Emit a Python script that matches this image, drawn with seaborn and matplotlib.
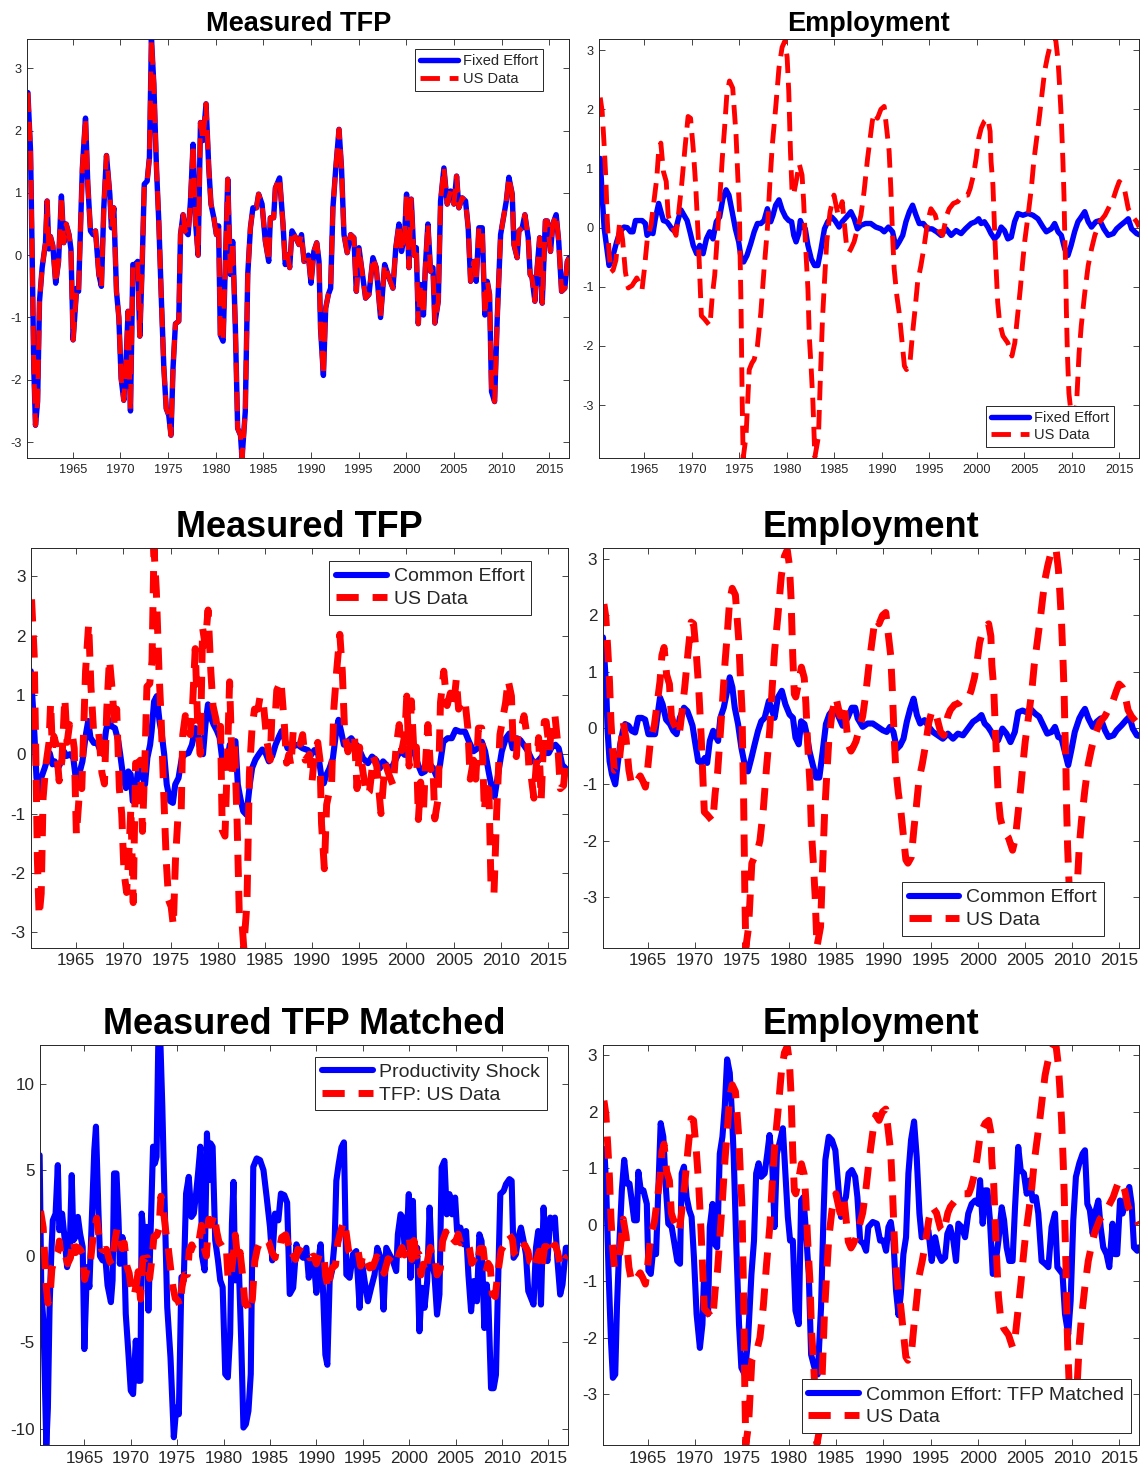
import numpy as np
import matplotlib
matplotlib.use("Agg")
import matplotlib.pyplot as plt
import seaborn as sns

# ---------------- data ----------------
tfp_year = [1960.28, 1960.56, 1960.73, 1960.90, 1961.08, 1961.30, 1961.50, 1961.78, 1962.13, 1962.30,
            1962.48, 1962.65, 1962.90, 1963.20, 1963.50, 1963.80, 1964.05, 1964.30, 1964.60, 1964.80,
            1965.03, 1965.40, 1965.60, 1966.00, 1966.33, 1966.57, 1966.85, 1967.13, 1967.38, 1967.73,
            1968.00, 1968.25, 1968.53, 1968.88, 1969.05, 1969.30, 1969.58, 1969.83, 1970.07, 1970.35,
            1970.63, 1970.80, 1971.05, 1971.30, 1971.57, 1971.80, 1972.03, 1972.27, 1972.50, 1972.80,
            1973.04, 1973.25, 1973.50, 1973.78, 1974.02, 1974.30, 1974.55, 1974.80, 1975.07, 1975.30,
            1975.52, 1975.77, 1976.12, 1976.30, 1976.57, 1976.80, 1977.10, 1977.35, 1977.62, 1977.87,
            1978.15, 1978.40, 1978.67, 1978.98, 1979.27, 1979.50, 1979.80, 1980.07, 1980.30, 1980.48,
            1980.77, 1981.00, 1981.26, 1981.54, 1981.78, 1982.06, 1982.30, 1982.60, 1982.76, 1983.10,
            1983.36, 1983.64, 1983.90, 1984.27, 1984.50, 1984.86, 1985.20, 1985.56, 1985.73, 1986.08,
            1986.26, 1986.70, 1987.06, 1987.30, 1987.55, 1987.76, 1988.00, 1988.40, 1988.74, 1989.00,
            1989.27, 1989.72, 1990.00, 1990.30, 1990.60, 1990.84, 1991.00, 1991.30, 1991.54, 1991.82,
            1992.06, 1992.30, 1992.60, 1992.94, 1993.20, 1993.46, 1993.80, 1994.16, 1994.50, 1994.76,
            1995.03, 1995.40, 1995.73, 1996.08, 1996.50, 1996.85, 1997.30, 1997.73, 1998.18, 1998.60,
            1998.90, 1999.23, 1999.50, 1999.83, 2000.03, 2000.28, 2000.52, 2000.80, 2001.05, 2001.26,
            2001.50, 2001.80, 2002.00, 2002.27, 2002.55, 2002.80, 2003.00, 2003.36, 2003.60, 2003.95,
            2004.30, 2004.65, 2005.00, 2005.28, 2005.52, 2005.87, 2006.22, 2006.50, 2006.75, 2007.10,
            2007.34, 2007.62, 2007.97, 2008.25, 2008.50, 2008.74, 2008.95, 2009.27, 2009.55, 2009.90,
            2010.14, 2010.50, 2010.77, 2011.12, 2011.30, 2011.64, 2011.82, 2012.17, 2012.45, 2012.80,
            2013.00, 2013.20, 2013.50, 2013.74, 2014.00, 2014.27, 2014.60, 2014.80, 2015.14, 2015.38,
            2015.73, 2016.00, 2016.30, 2016.64, 2016.90, 2017.10]
tfp_data = [2.61, 1.67, 0.00, -1.80, -2.73, -2.35, -0.74, -0.20, 0.20, 0.87,
            0.10, 0.30, 0.15, -0.45, -0.10, 0.95, 0.20, 0.50, 0.33, 0.10,
            -1.36, -0.53, -0.58, 1.40, 2.20, 1.14, 0.39, 0.33, 0.39, -0.31,
            -0.50, 0.76, 1.60, 0.98, 0.44, 0.76, -0.58, -1.00, -1.98, -2.33,
            -1.55, -0.90, -2.50, -0.15, -0.15, -0.10, -1.30, -0.20, 1.14, 1.19,
            1.57, 3.47, 2.75, 1.40, 0.55, -0.74, -1.80, -2.46, -2.57, -2.89,
            -1.80, -1.10, -1.06, 0.33, 0.65, 0.39, 0.33, 0.87, 1.78, 0.55,
            0.00, 2.13, 1.84, 2.43, 1.40, 0.82, 0.60, 0.33, 0.47, -1.28,
            -1.38, -0.20, 1.22, -0.31, 0.22, -1.17, -2.78, -2.89, -3.26, -2.51,
            -0.31, 0.44, 0.76, 0.76, 0.98, 0.82, 0.23, -0.10, 0.60, 0.60,
            1.08, 1.24, 0.50, -0.15, 0.00, -0.20, 0.39, 0.28, 0.17, 0.33,
            -0.10, 0.00, -0.45, 0.06, 0.20, -0.10, -1.17, -1.93, -0.85, -0.63,
            -0.53, 0.76, 1.40, 2.02, 1.40, 0.33, 0.04, 0.33, 0.28, -0.58,
            0.12, -0.31, -0.69, -0.63, -0.04, -0.20, -1.00, -0.15, -0.36, -0.53,
            0.12, 0.50, 0.06, 0.33, 0.98, -0.20, 0.90, 0.00, 0.12, -1.10,
            -0.47, -0.96, -0.20, 0.50, -0.26, -0.20, -1.09, -0.74, 0.87, 1.40,
            0.82, 1.03, 0.82, 1.27, 0.76, 0.92, 0.87, 0.44, -0.42, -0.10,
            -0.42, 0.44, 0.44, -0.96, -0.42, -0.63, -2.19, -2.35, -1.00, 0.33,
            0.55, 0.87, 1.25, 0.98, 0.17, -0.04, 0.39, 0.44, 0.65, 0.28,
            -0.31, -0.36, -0.74, -0.20, 0.28, -0.77, 0.55, 0.55, 0.06, 0.50,
            0.65, 0.22, -0.58, -0.53, -0.10, -0.04]
# Fixed-effort model TFP lies on top of the data
fixed_effort_tfp = list(tfp_data)

emp_year = [1960.35, 1960.55, 1960.76, 1960.94, 1961.10, 1961.28, 1961.46, 1961.70, 1962.00, 1962.40,
            1962.70, 1963.00, 1963.30, 1963.70, 1964.20, 1964.50, 1964.75, 1965.00, 1965.30, 1965.70,
            1966.00, 1966.30, 1966.50, 1966.73, 1967.00, 1967.30, 1967.50, 1967.70, 1968.05, 1968.33,
            1968.58, 1968.92, 1969.27, 1969.60, 1969.86, 1970.14, 1970.40, 1970.66, 1970.83, 1971.00,
            1971.35, 1971.90, 1972.15, 1972.40, 1972.64, 1972.92, 1973.20, 1973.44, 1973.68, 1973.96,
            1974.30, 1974.65, 1974.83, 1975.00, 1975.07, 1975.17, 1975.24, 1975.30, 1975.40, 1975.70,
            1975.87, 1976.04, 1976.32, 1976.56, 1976.90, 1977.26, 1977.60, 1977.95, 1978.20, 1978.47,
            1978.82, 1979.17, 1979.50, 1979.80, 1980.03, 1980.20, 1980.38, 1980.55, 1980.70, 1981.00,
            1981.30, 1981.60, 1981.77, 1981.95, 1982.22, 1982.36, 1982.57, 1982.75, 1982.95, 1983.33,
            1983.50, 1983.75, 1983.96, 1984.20, 1984.55, 1984.96, 1985.40, 1985.83, 1986.04, 1986.28,
            1986.56, 1986.74, 1987.08, 1987.43, 1987.80, 1988.13, 1988.50, 1988.73, 1989.00, 1989.20,
            1989.54, 1989.90, 1990.25, 1990.50, 1990.77, 1990.95, 1991.13, 1991.30, 1991.58, 1991.83,
            1992.00, 1992.20, 1992.38, 1992.60, 1992.96, 1993.24, 1993.50, 1993.77, 1994.12, 1994.47,
            1994.82, 1995.17, 1995.63, 1996.06, 1996.40, 1996.83, 1997.10, 1997.53, 1998.00, 1998.52,
            1999.05, 1999.30, 1999.65, 1999.93, 2000.20, 2000.46, 2000.80, 2001.16, 2001.40, 2001.50,
            2001.70, 2001.87, 2002.04, 2002.20, 2002.40, 2002.75, 2003.27, 2003.70, 2004.00, 2004.33,
            2004.58, 2004.80, 2005.04, 2005.40, 2005.74, 2006.00, 2006.27, 2006.62, 2006.90, 2007.15,
            2007.43, 2007.68, 2008.03, 2008.30, 2008.56, 2008.73, 2008.90, 2009.07, 2009.18, 2009.25,
            2009.36, 2009.43, 2009.54, 2009.70, 2009.90, 2010.20, 2010.50, 2010.77, 2011.00, 2011.37,
            2011.73, 2012.08, 2012.43, 2012.96, 2013.50, 2013.94, 2014.37, 2014.72, 2015.00, 2015.35,
            2015.60, 2015.95, 2016.30, 2016.83, 2017.10]
emp_data = [2.20, 1.97, 1.40, 0.83, 0.10, -0.41, -0.75, -0.72, -0.55, 0.10,
            -0.20, -0.75, -1.02, -0.98, -0.85, -0.95, -1.05, -0.70, -0.20, 0.05,
            0.44, 0.83, 1.29, 1.43, 0.95, 0.78, 0.21, 0.10, -0.02, -0.13,
            0.21, 0.72, 1.34, 1.88, 1.85, 1.34, 0.72, -0.13, -0.81, -1.49,
            -1.55, -1.66, -1.15, -0.81, -0.24, 0.44, 1.17, 1.68, 2.25, 2.48,
            2.36, 1.57, 0.89, 0.32, -0.41, -1.26, -2.12, -2.97, -3.90, -3.53,
            -2.97, -2.40, -2.29, -2.23, -2.00, -1.44, -0.70, -0.02, 0.72, 1.40,
            2.02, 2.70, 3.05, 3.16, 2.88, 2.31, 1.29, 0.60, 0.55, 0.80,
            1.08, 0.89, 0.44, -0.24, -1.04, -1.83, -2.40, -2.97, -3.88, -3.53,
            -2.68, -1.55, -0.92, -0.24, 0.27, 0.55, 0.21, 0.44, 0.10, -0.30,
            -0.41, -0.36, -0.24, -0.02, 0.21, 0.61, 1.17, 1.46, 1.80, 1.94,
            1.85, 2.00, 2.05, 1.68, 1.29, 0.66, -0.13, -0.70, -1.15, -1.44,
            -1.72, -2.06, -2.34, -2.40, -2.29, -1.78, -1.38, -0.92, -0.64, -0.30,
            0.10, 0.32, 0.21, -0.07, -0.13, 0.21, 0.32, 0.41, 0.44, 0.55,
            0.55, 0.66, 0.89, 1.17, 1.51, 1.68, 1.80, 1.85, 1.63, 1.12,
            0.72, -0.02, -0.70, -1.26, -1.60, -1.83, -1.95, -2.17, -1.95, -1.44,
            -1.04, -0.64, -0.24, 0.21, 0.66, 1.12, 1.46, 1.91, 2.31, 2.65,
            2.88, 3.05, 3.16, 3.19, 2.82, 2.37, 1.85, 1.12, 0.55, -0.02,
            -0.70, -1.38, -2.12, -2.80, -3.10, -3.25, -3.00, -2.12, -1.66, -1.10,
            -0.64, -0.36, -0.13, 0.10, 0.21, 0.35, 0.49, 0.66, 0.78, 0.72,
            0.61, 0.32, 0.21, 0.10, 0.01]

fe_emp_year = [1960.35, 1960.55, 1960.76, 1961.00, 1961.28, 1961.46, 1961.80, 1962.08, 1962.43, 1962.85,
               1963.20, 1963.54, 1963.80, 1964.06, 1964.40, 1964.76, 1965.10, 1965.28, 1965.63, 1965.90,
               1966.15, 1966.50, 1966.74, 1967.00, 1967.36, 1967.64, 1967.88, 1968.23, 1968.58, 1968.85,
               1969.17, 1969.50, 1969.80, 1970.14, 1970.50, 1970.83, 1971.18, 1971.53, 1971.88, 1972.22,
               1972.57, 1972.92, 1973.26, 1973.60, 1973.90, 1974.24, 1974.58, 1974.93, 1975.17, 1975.45,
               1975.80, 1976.20, 1976.56, 1976.90, 1977.26, 1977.60, 1977.95, 1978.30, 1978.54, 1978.82,
               1979.17, 1979.50, 1979.86, 1980.20, 1980.50, 1980.73, 1980.97, 1981.25, 1981.42, 1981.67,
               1981.94, 1982.22, 1982.57, 1982.92, 1983.26, 1983.60, 1983.96, 1984.30, 1984.72, 1985.07,
               1985.50, 1985.83, 1986.28, 1986.74, 1987.10, 1987.43, 1987.80, 1988.30, 1988.84, 1989.37,
               1989.90, 1990.25, 1990.70, 1991.13, 1991.48, 1991.83, 1992.20, 1992.54, 1992.90, 1993.24,
               1993.60, 1993.94, 1994.37, 1994.82, 1995.28, 1995.77, 1996.23, 1996.76, 1997.30, 1997.82,
               1998.35, 1998.80, 1999.40, 1999.86, 2000.20, 2000.46, 2000.80, 2001.16, 2001.50, 2001.87,
               2002.22, 2002.57, 2002.92, 2003.27, 2003.63, 2003.98, 2004.33, 2004.86, 2005.39, 2005.92,
               2006.44, 2006.97, 2007.32, 2007.85, 2008.20, 2008.56, 2008.90, 2009.26, 2009.60, 2009.93,
               2010.30, 2010.65, 2011.00, 2011.37, 2011.73, 2012.08, 2012.54, 2012.96, 2013.38, 2013.84,
               2014.37, 2014.72, 2015.14, 2015.60, 2015.95, 2016.30, 2016.83, 2017.10]
fe_emp = [1.17, 0.55, 0.00, -0.30, -0.64, -0.58, -0.41, -0.24, -0.07, 0.01,
          0.00, -0.07, -0.07, 0.12, 0.12, 0.12, 0.07, -0.13, -0.07, -0.10,
          0.15, 0.41, 0.27, 0.12, 0.10, 0.04, -0.02, -0.07, 0.15, 0.30,
          0.21, 0.12, -0.07, -0.30, -0.44, -0.30, -0.44, -0.19, -0.07, -0.19,
          0.10, 0.18, 0.49, 0.64, 0.55, 0.27, -0.02, -0.24, -0.50, -0.58,
          -0.47, -0.27, -0.07, 0.07, 0.07, 0.12, 0.32, 0.10, 0.21, 0.38,
          0.47, 0.30, 0.18, 0.12, 0.10, -0.13, -0.24, -0.10, 0.12, 0.01,
          -0.02, -0.30, -0.53, -0.64, -0.64, -0.36, -0.02, 0.10, 0.18, 0.12,
          0.01, 0.10, 0.18, 0.27, 0.15, -0.02, 0.04, 0.07, 0.07, 0.01,
          -0.02, -0.07, 0.01, -0.07, -0.33, -0.24, -0.13, 0.10, 0.27, 0.38,
          0.21, 0.07, 0.07, -0.02, -0.02, -0.07, -0.13, -0.02, -0.13, -0.05,
          -0.10, -0.02, 0.07, 0.10, 0.15, 0.07, 0.10, 0.01, -0.10, -0.19,
          -0.13, 0.01, -0.05, -0.19, -0.16, 0.10, 0.24, 0.21, 0.24, 0.21,
          0.15, 0.01, -0.07, -0.02, 0.07, -0.07, -0.13, -0.36, -0.47, -0.30,
          -0.07, 0.10, 0.18, 0.27, 0.10, 0.01, 0.10, 0.12, -0.02, -0.13,
          -0.10, -0.02, 0.04, 0.10, 0.15, -0.02, -0.10, -0.12]

ce_tfp_year = [1960.20, 1960.45, 1960.60, 1960.80, 1961.06, 1961.30, 1961.67, 1962.00, 1962.20, 1962.50,
               1962.73, 1963.10, 1963.44, 1963.70, 1964.00, 1964.33, 1964.70, 1965.00, 1965.32, 1965.67,
               1966.03, 1966.28, 1966.52, 1966.88, 1967.23, 1967.60, 1967.87, 1968.16, 1968.40, 1968.76,
               1969.11, 1969.47, 1969.72, 1970.00, 1970.28, 1970.53, 1970.78, 1971.00, 1971.24, 1971.50,
               1971.77, 1972.06, 1972.30, 1972.55, 1972.84, 1973.00, 1973.26, 1973.55, 1973.83, 1974.08,
               1974.33, 1974.60, 1974.96, 1975.25, 1975.50, 1975.85, 1976.20, 1976.56, 1976.90, 1977.27,
               1977.62, 1977.90, 1978.16, 1978.44, 1978.70, 1978.97, 1979.30, 1979.57, 1979.93, 1980.20,
               1980.46, 1980.70, 1981.00, 1981.28, 1981.52, 1981.88, 1982.13, 1982.40, 1982.70, 1983.05,
               1983.40, 1983.65, 1984.00, 1984.36, 1984.72, 1985.07, 1985.42, 1985.78, 1986.13, 1986.50,
               1986.77, 1987.06, 1987.40, 1987.94, 1988.47, 1989.00, 1989.54, 1989.90, 1990.25, 1990.60,
               1990.96, 1991.24, 1991.50, 1991.84, 1992.20, 1992.55, 1992.80, 1993.08, 1993.37, 1993.72,
               1994.15, 1994.50, 1994.86, 1995.40, 1995.92, 1996.35, 1996.80, 1997.16, 1997.52, 1997.87,
               1998.33, 1998.76, 1999.10, 1999.47, 1999.80, 2000.18, 2000.53, 2000.90, 2001.24, 2001.60,
               2001.95, 2002.38, 2002.84, 2003.20, 2003.55, 2003.90, 2004.36, 2004.80, 2005.20, 2005.67,
               2006.20, 2006.63, 2007.10, 2007.55, 2007.98, 2008.33, 2008.70, 2009.04, 2009.33, 2009.75,
               2010.10, 2010.53, 2010.90, 2011.24, 2011.70, 2012.06, 2012.40, 2012.87, 2013.30, 2013.72,
               2014.18, 2014.65, 2015.07, 2015.43, 2015.78, 2016.13, 2016.50, 2017.00]
ce_tfp = [1.40, 0.73, 0.28, -0.40, -0.62, -0.40, -0.23, -0.06, 0.02, -0.17,
          -0.12, -0.23, -0.12, 0.05, -0.03, 0.00, -0.06, -0.46, -0.34, -0.12,
          0.33, 0.56, 0.28, 0.19, 0.19, 0.05, 0.00, 0.39, 0.59, 0.47,
          0.44, 0.22, -0.06, -0.40, -0.57, -0.29, -0.34, -0.79, -0.74, -0.34,
          -0.17, -0.40, -0.51, -0.06, 0.16, 0.39, 0.89, 0.98, 0.56, 0.33,
          0.00, -0.51, -0.79, -0.82, -0.51, -0.40, -0.06, 0.00, 0.02, 0.16,
          0.44, 0.33, 0.08, 0.00, 0.50, 0.84, 0.61, 0.50, 0.39, 0.28,
          -0.06, -0.23, -0.12, 0.16, 0.11, 0.22, -0.51, -0.74, -0.96, -1.02,
          -0.51, -0.23, -0.09, 0.00, 0.08, 0.02, -0.12, -0.03, 0.16, 0.30,
          0.39, 0.27, 0.10, 0.13, 0.16, 0.10, 0.07, -0.01, 0.07, 0.05,
          -0.35, -0.49, -0.35, -0.24, -0.07, 0.38, 0.58, 0.38, 0.16, 0.21,
          0.27, 0.19, 0.13, -0.07, -0.15, -0.04, -0.10, -0.24, -0.12, -0.18,
          -0.26, -0.12, -0.01, 0.05, -0.01, -0.01, 0.16, -0.01, -0.18, -0.32,
          -0.29, -0.15, -0.24, -0.38, -0.18, 0.21, 0.27, 0.27, 0.41, 0.38,
          0.38, 0.21, 0.05, 0.10, 0.21, 0.05, -0.29, -0.57, -0.72, -0.29,
          0.05, 0.27, 0.35, 0.10, 0.27, 0.24, 0.16, 0.05, -0.10, -0.15,
          -0.07, 0.02, 0.02, 0.13, 0.16, 0.10, -0.18, -0.26]

ce_emp_year = [1960.25, 1960.42, 1960.60, 1960.74, 1960.95, 1961.20, 1961.55, 1961.80, 1962.08, 1962.36,
               1962.60, 1962.96, 1963.30, 1963.66, 1964.00, 1964.37, 1964.72, 1965.07, 1965.42, 1965.77,
               1966.00, 1966.30, 1966.58, 1966.94, 1967.36, 1967.71, 1968.06, 1968.40, 1968.84, 1969.20,
               1969.47, 1969.75, 1970.00, 1970.35, 1970.70, 1971.06, 1971.30, 1971.58, 1971.94, 1972.20,
               1972.46, 1972.70, 1973.06, 1973.35, 1973.70, 1973.98, 1974.23, 1974.58, 1974.93, 1975.28,
               1975.63, 1976.00, 1976.34, 1976.70, 1977.04, 1977.40, 1977.85, 1978.20, 1978.45, 1978.80,
               1979.22, 1979.60, 1980.04, 1980.40, 1980.67, 1981.02, 1981.27, 1981.62, 1981.87, 1982.15,
               1982.50, 1982.85, 1983.20, 1983.56, 1983.90, 1984.26, 1984.68, 1985.14, 1985.67, 1986.20,
               1986.65, 1987.00, 1987.27, 1987.80, 1988.33, 1988.87, 1989.40, 1989.93, 1990.35, 1990.70,
               1991.06, 1991.42, 1991.77, 1992.13, 1992.48, 1992.84, 1993.20, 1993.55, 1993.90, 1994.36,
               1994.82, 1995.25, 1995.78, 1996.30, 1996.84, 1997.38, 1997.90, 1998.44, 1998.97, 1999.50,
               2000.03, 2000.40, 2000.74, 2001.10, 2001.45, 2001.80, 2002.16, 2002.62, 2003.05, 2003.48,
               2003.94, 2004.30, 2004.75, 2005.18, 2005.60, 2006.06, 2006.52, 2006.95, 2007.38, 2007.84,
               2008.20, 2008.55, 2008.90, 2009.26, 2009.60, 2009.96, 2010.30, 2010.78, 2011.13, 2011.38,
               2011.74, 2012.20, 2012.62, 2013.05, 2013.50, 2013.87, 2014.40, 2014.75, 2015.28, 2015.74,
               2016.10, 2016.45, 2016.88, 2017.05]
ce_emp = [1.61, 1.19, 0.66, -0.05, -0.59, -0.82, -1.00, -0.65, -0.29, -0.05,
          0.07, 0.04, -0.05, -0.08, 0.18, 0.18, 0.15, -0.11, -0.11, -0.11,
          0.18, 0.54, 0.42, 0.15, 0.07, -0.05, -0.11, 0.18, 0.36, 0.30,
          0.18, 0.04, -0.23, -0.59, -0.62, -0.53, -0.62, -0.23, -0.05, -0.14,
          -0.23, 0.18, 0.36, 0.60, 0.90, 0.72, 0.36, 0.07, -0.35, -0.65,
          -0.77, -0.53, -0.29, -0.05, 0.12, 0.18, 0.48, 0.30, 0.18, 0.54,
          0.66, 0.42, 0.24, 0.18, -0.17, -0.29, 0.12, 0.07, -0.11, -0.41,
          -0.65, -0.88, -0.88, -0.41, 0.07, 0.24, 0.33, 0.24, 0.04, 0.18,
          0.36, 0.36, 0.17, 0.02, 0.08, 0.08, 0.02, -0.04, -0.07, 0.02,
          -0.07, -0.37, -0.31, -0.19, 0.11, 0.34, 0.52, 0.23, 0.08, 0.14,
          0.02, -0.07, -0.13, -0.19, -0.10, -0.19, -0.10, -0.13, -0.01, 0.11,
          0.17, 0.23, 0.08, 0.02, -0.07, -0.19, -0.22, -0.01, -0.10, -0.25,
          -0.07, 0.28, 0.31, 0.28, 0.34, 0.26, 0.20, 0.05, -0.10, -0.07,
          0.02, -0.16, -0.19, -0.43, -0.66, -0.37, -0.07, 0.17, 0.28, 0.34,
          0.17, 0.02, 0.11, 0.17, -0.04, -0.16, -0.13, -0.04, 0.05, 0.14,
          0.20, -0.01, -0.13, -0.14]

shock_year = [1960.18, 1960.36, 1960.60, 1960.90, 1961.07, 1961.25, 1961.43, 1961.60, 1961.90, 1962.14,
              1962.30, 1962.60, 1962.86, 1963.14, 1963.40, 1963.64, 1963.82, 1964.04, 1964.30, 1964.54,
              1964.82, 1965.00, 1965.28, 1965.54, 1965.82, 1966.07, 1966.25, 1966.50, 1966.68, 1966.96,
              1967.25, 1967.50, 1967.86, 1968.04, 1968.20, 1968.46, 1968.68, 1968.82, 1969.10, 1969.28,
              1969.46, 1969.75, 1970.00, 1970.25, 1970.54, 1970.82, 1971.04, 1971.18, 1971.43, 1971.68,
              1971.90, 1972.14, 1972.40, 1972.60, 1972.78, 1972.96, 1973.20, 1973.40, 1973.57, 1973.93,
              1974.28, 1974.64, 1974.90, 1975.18, 1975.46, 1975.71, 1975.96, 1976.25, 1976.54, 1976.79,
              1977.04, 1977.25, 1977.50, 1977.68, 1977.96, 1978.21, 1978.40, 1978.60, 1978.82, 1979.10,
              1979.40, 1979.64, 1979.90, 1980.18, 1980.46, 1980.71, 1980.90, 1981.07, 1981.25, 1981.43,
              1981.60, 1981.90, 1982.14, 1982.40, 1982.68, 1982.93, 1983.20, 1983.57, 1983.93, 1984.30,
              1984.64, 1985.00, 1985.25, 1985.54, 1985.90, 1986.18, 1986.54, 1986.85, 1987.13, 1987.50,
              1987.85, 1988.20, 1988.57, 1988.92, 1989.18, 1989.46, 1989.75, 1990.00, 1990.25, 1990.46,
              1990.72, 1990.97, 1991.18, 1991.43, 1991.68, 1991.97, 1992.15, 1992.40, 1992.70, 1992.97,
              1993.23, 1993.58, 1993.94, 1994.30, 1994.66, 1994.90, 1995.20, 1995.55, 1995.90, 1996.27,
              1996.56, 1996.92, 1997.24, 1997.53, 1997.88, 1998.24, 1998.60, 1998.78, 1999.07, 1999.32,
              1999.50, 1999.78, 1999.96, 2000.14, 2000.40, 2000.57, 2000.86, 2001.10, 2001.36, 2001.65,
              2001.94, 2002.20, 2002.44, 2002.72, 2003.00, 2003.26, 2003.50, 2003.80, 2004.05, 2004.34,
              2004.62, 2004.95, 2005.16, 2005.52, 2005.88, 2006.13, 2006.38, 2006.67, 2006.95, 2007.30,
              2007.56, 2007.80, 2008.10, 2008.35, 2008.53, 2008.82, 2009.10, 2009.35, 2009.53, 2009.82,
              2010.18, 2010.43, 2010.80, 2011.04, 2011.25, 2011.50, 2011.75, 2012.04, 2012.33, 2012.58,
              2012.83, 2013.12, 2013.40, 2013.66, 2013.90, 2014.20, 2014.48, 2014.73, 2014.90, 2015.20,
              2015.45, 2015.70, 2015.98, 2016.27, 2016.52, 2016.88, 2017.06]
prod_shock = [5.85, -2.00, -3.90, -10.95, -8.80, -3.00, 0.00, 2.07, 2.46, 5.27,
              1.50, 2.46, 1.10, -0.64, 0.00, 4.69, 0.91, 1.10, 2.27, 1.30,
              0.52, -5.39, -0.64, -1.80, 2.46, 6.14, 7.50, 2.85, 0.00, -0.25,
              0.00, -1.70, -2.67, -1.41, 4.79, 4.79, 2.07, -0.45, 1.10, 0.52,
              -3.35, -5.68, -7.80, -8.00, -4.90, -7.23, -7.23, 2.46, 0.91, 1.69,
              -3.16, 1.30, 6.34, 5.37, 5.76, 12.15, 12.25, 8.66, 4.79, -2.97,
              -5.87, -10.50, -8.78, -9.17, -1.22, -1.41, 3.62, 4.59, 2.27, 2.46,
              3.62, 4.79, 6.34, 0.00, -0.83, 7.11, 4.40, 6.53, 6.34, 0.91,
              -0.25, -1.41, -1.80, -6.84, -7.03, -4.50, 1.88, 4.30, -1.41, -0.25,
              0.14, -4.90, -9.94, -9.75, -8.97, -6.84, 5.17, 5.66, 5.56, 4.98,
              3.43, 1.69, -0.25, 2.46, 2.07, 3.62, 3.53, 3.10, -2.20, -1.84,
              0.68, 0.10, -0.10, 0.48, -1.26, -0.29, -0.48, -2.13, -0.10, 0.68,
              -2.03, -5.72, -6.30, -1.45, -0.87, 0.87, 4.36, 5.33, 6.30, 6.59,
              -1.07, -1.26, 0.10, 0.29, -3.00, -0.29, -1.45, -2.62, -1.84, -1.07,
              0.48, -0.10, -3.10, 0.48, 0.10, -0.29, -0.87, 1.26, 2.42, 2.23,
              0.48, 1.65, 3.59, -1.26, 3.20, -0.29, 0.48, -4.36, -1.84, -3.00,
              -1.45, 2.81, -0.29, -1.07, -3.39, -2.23, 5.14, 5.52, 2.42, 3.59,
              2.42, 3.39, 1.45, 1.65, 0.68, 1.45, -1.07, -3.20, -1.45, -2.62,
              1.26, 0.87, -4.17, -1.65, -2.62, -7.66, -7.66, -6.88, -2.62, 3.59,
              3.78, 4.17, 4.46, 4.36, -0.10, 0.10, 1.07, 1.65, 0.87, 0.10,
              -2.03, -2.42, -2.81, 0.48, 1.45, -2.81, 2.81, 0.10, -0.29, 2.23,
              1.65, 2.23, -0.29, -2.23, -1.65, 0.48, 0.48]

matched_year = [1960.25, 1960.42, 1960.60, 1960.85, 1961.10, 1961.30, 1961.55, 1961.73, 1962.00, 1962.25,
                1962.50, 1962.78, 1963.06, 1963.30, 1963.56, 1963.84, 1964.00, 1964.26, 1964.54, 1964.90,
                1965.07, 1965.32, 1965.60, 1965.88, 1966.13, 1966.37, 1966.65, 1966.94, 1967.18, 1967.54,
                1967.78, 1968.13, 1968.42, 1968.60, 1968.84, 1969.12, 1969.40, 1969.65, 1969.90, 1970.18,
                1970.53, 1970.80, 1970.99, 1971.23, 1971.40, 1971.58, 1971.87, 1972.10, 1972.36, 1972.64,
                1972.92, 1973.17, 1973.42, 1973.70, 1973.94, 1974.12, 1974.40, 1974.68, 1974.93, 1975.28,
                1975.63, 1976.00, 1976.27, 1976.50, 1976.76, 1977.04, 1977.40, 1977.68, 1977.92, 1978.20,
                1978.45, 1978.70, 1979.05, 1979.33, 1979.60, 1979.86, 1980.10, 1980.39, 1980.67, 1981.02,
                1981.27, 1981.51, 1981.80, 1982.08, 1982.33, 1982.68, 1983.03, 1983.38, 1983.63, 1983.84,
                1984.20, 1984.54, 1984.90, 1985.25, 1985.50, 1985.74, 1986.02, 1986.30, 1986.65, 1987.00,
                1987.24, 1987.53, 1987.88, 1988.16, 1988.40, 1988.87, 1989.30, 1989.65, 1990.00, 1990.28,
                1990.53, 1990.78, 1991.06, 1991.34, 1991.60, 1991.84, 1992.12, 1992.40, 1992.65, 1992.93,
                1993.25, 1993.53, 1993.82, 1994.06, 1994.42, 1994.77, 1995.12, 1995.48, 1995.83, 1996.18,
                1996.54, 1996.78, 1997.07, 1997.42, 1997.70, 1997.95, 1998.30, 1998.66, 1999.00, 1999.36,
                1999.72, 2000.07, 2000.25, 2000.53, 2000.78, 2001.03, 2001.30, 2001.60, 2001.84, 2002.20,
                2002.55, 2002.80, 2003.07, 2003.36, 2003.70, 2003.96, 2004.30, 2004.56, 2004.90, 2005.20,
                2005.55, 2005.83, 2006.18, 2006.43, 2006.78, 2007.14, 2007.50, 2007.84, 2008.20, 2008.45,
                2008.73, 2009.00, 2009.26, 2009.60, 2009.86, 2010.14, 2010.42, 2010.78, 2011.13, 2011.38,
                2011.63, 2011.90, 2012.20, 2012.44, 2012.80, 2013.04, 2013.32, 2013.67, 2013.96, 2014.30,
                2014.56, 2014.80, 2015.10, 2015.37, 2015.72, 2016.08, 2016.33, 2016.58, 2016.93, 2017.05]
ce_emp_matched = [1.35, 1.26, 0.61, -0.87, -2.06, -2.71, -2.65, -1.47, -0.28, 0.61,
                  1.15, 0.73, 0.73, 0.43, 0.08, 0.08, 0.94, 0.61, 0.61, 0.37,
                  -0.81, -0.87, -0.40, -0.52, 0.67, 1.80, 1.56, 0.61, 0.02, -0.04,
                  -0.28, -0.64, -0.69, 0.91, 1.03, 0.49, 0.26, 0.14, -0.58, -1.58,
                  -2.18, -1.76, -0.81, -1.29, -1.58, -0.04, 0.37, -0.34, -0.40, 1.26,
                  1.56, 2.09, 2.93, 2.69, 1.92, 1.20, -0.40, -1.76, -2.53, -2.65,
                  -2.06, -0.87, -0.28, 0.91, 1.09, 0.85, 0.91, 1.26, 1.59, 1.09,
                  -0.04, 1.26, 1.50, 1.71, 0.91, 0.14, -0.28, -0.28, -1.52, -1.76,
                  0.43, 0.49, -0.16, -0.87, -2.30, -2.53, -2.65, -1.47, 0.08, 1.15,
                  1.56, 1.50, 1.32, 0.61, 0.14, 0.37, 0.49, 0.91, 0.97, 0.85,
                  0.49, -0.28, -0.34, -0.46, -0.04, 0.05, 0.02, -0.28, -0.28, -0.46,
                  -0.04, 0.05, -0.28, -1.17, -1.60, -1.23, -0.52, -0.22, 0.91, 1.50,
                  1.83, 1.20, 0.20, -0.22, -0.16, -0.10, -0.64, -0.22, -0.52, -0.64,
                  -0.58, -0.16, -0.04, -0.28, -0.64, 0.02, -0.04, -0.22, 0.20, 0.37,
                  0.43, 0.37, 0.79, 0.02, 0.61, 0.61, 0.08, -0.87, -0.75, -0.28,
                  0.31, 0.08, -0.40, -0.64, -0.64, 0.31, 1.38, 0.97, 0.91, 0.55,
                  0.79, 0.43, 0.49, 0.20, -0.64, -0.69, -0.75, -0.04, 0.20, -0.75,
                  -0.81, -0.87, -1.58, -1.94, -1.35, 0.08, 0.85, 1.09, 1.26, 1.32,
                  0.37, 0.26, -0.16, 0.20, 0.43, -0.04, -0.40, -0.52, -0.75, 0.02,
                  -0.52, -0.52, 0.43, 0.20, 0.49, 0.67, 0.37, -0.40, -0.46, -0.40]

x_ticks = [1965, 1970, 1975, 1980, 1985, 1990, 1995, 2000, 2005, 2010, 2015]
x_tick_labels = [str(t) for t in x_ticks]

# ---------------- style ----------------
sns.set_theme(style="ticks")
plt.rcParams['font.family'] = ['Liberation Sans', 'DejaVu Sans']
plt.rcParams['axes.unicode_minus'] = False
EDGE = '#262626'

W, H = 1140, 1470
fig = plt.figure(figsize=(W / 100, H / 100), dpi=100)


def rect(x0, x1, yt, yb):
    return [x0 / W, 1 - yb / H, (x1 - x0) / W, (yb - yt) / H]


panels = [
    dict(r=rect(27.3, 569, 39, 458.3), title="Measured TFP",
         blue=(tfp_year, fixed_effort_tfp, "Fixed Effort"), red=(tfp_year, tfp_data, "US Data"),
         yt=[-3, -2, -1, 0, 1, 2, 3], small=True, loc='upper right', anchor=(0.952, 0.976)),
    dict(r=rect(599, 1139, 39, 458.3), title="Employment",
         blue=(fe_emp_year, fe_emp, "Fixed Effort"), red=(emp_year, emp_data, "US Data"),
         yt=[-3, -2, -1, 0, 1, 2, 3], small=True, loc='lower right', anchor=(0.954, 0.026)),
    dict(r=rect(31, 567.7, 548.3, 947.7), title="Measured TFP",
         blue=(ce_tfp_year, ce_tfp, "Common Effort"), red=(tfp_year, tfp_data, "US Data"),
         yt=[-3, -2, -1, 0, 1, 2, 3], small=False, loc='upper right', anchor=(0.932, 0.968)),
    dict(r=rect(602.7, 1138.7, 548.3, 947.7), title="Employment",
         blue=(ce_emp_year, ce_emp, "Common Effort"), red=(emp_year, emp_data, "US Data"),
         yt=[-3, -2, -1, 0, 1, 2, 3], small=False, loc='lower right', anchor=(0.935, 0.03)),
    dict(r=rect(40, 567.7, 1044.7, 1445), title="Measured TFP Matched",
         blue=(shock_year, prod_shock, "Productivity Shock"), red=(tfp_year, tfp_data, "TFP: US Data"),
         yt=[-10, -5, 0, 5, 10], small=False, loc='upper right', anchor=(0.961, 0.97)),
    dict(r=rect(602.7, 1138.7, 1044.7, 1445), title="Employment",
         blue=(matched_year, ce_emp_matched, "Common Effort: TFP Matched"), red=(emp_year, emp_data, "US Data"),
         yt=[-3, -2, -1, 0, 1, 2, 3], small=False, loc='lower right', anchor=(0.985, 0.03)),
]

for p in panels:
    ax = fig.add_axes(p['r'])
    small = p['small']
    blw = 3.9 if small else 4.4
    rlw = 3.5 if small else 5.0
    dash = (0, (4.0, 2.0)) if small else (0, (3.2, 2.0))
    bx, by, blab = p['blue']
    rx, ry, rlab = p['red']
    sns.lineplot(x=bx, y=by, ax=ax, color=(0, 0, 1), linewidth=blw, label=blab,
                 estimator=None, sort=False, solid_joinstyle='round')
    sns.lineplot(x=rx, y=ry, ax=ax, color=(1, 0, 0), linewidth=rlw, label=rlab,
                 estimator=None, sort=False, linestyle=dash)
    ymin = min(min(by), min(ry))
    ymax = max(max(by), max(ry))
    ax.set_xlim(1960.22, 2017.08)
    ax.set_ylim(ymin, ymax)
    ax.set_xticks(x_ticks)
    ax.set_xticklabels(x_tick_labels)
    ax.set_yticks(p['yt'])
    ax.set_yticklabels([str(v) for v in p['yt']])
    ax.set_xlabel("")
    ax.set_ylabel("")
    fs_tick = 9.2 if small else 12.3
    ax.tick_params(axis='both', which='both', direction='in', top=True, right=True,
                   length=4, width=0.6, color=EDGE, labelsize=fs_tick, labelcolor=EDGE, pad=4)
    for s in ax.spines.values():
        s.set_visible(True)
        s.set_color(EDGE)
        s.set_linewidth(0.7)
    ax.set_title(p['title'], fontsize=19.5 if small else 26, fontweight='bold',
                 color='black', pad=6 if small else 8)
    leg_fs = 10.5 if small else 14
    leg = ax.legend(loc=p['loc'], bbox_to_anchor=p['anchor'], borderaxespad=0,
                    fontsize=leg_fs, frameon=True, fancybox=False, framealpha=1,
                    edgecolor=EDGE, handlelength=2.6, handletextpad=0.35,
                    labelspacing=0.25, borderpad=0.35)
    leg.get_frame().set_linewidth(0.7)

fig.savefig("out.png", dpi=100)
